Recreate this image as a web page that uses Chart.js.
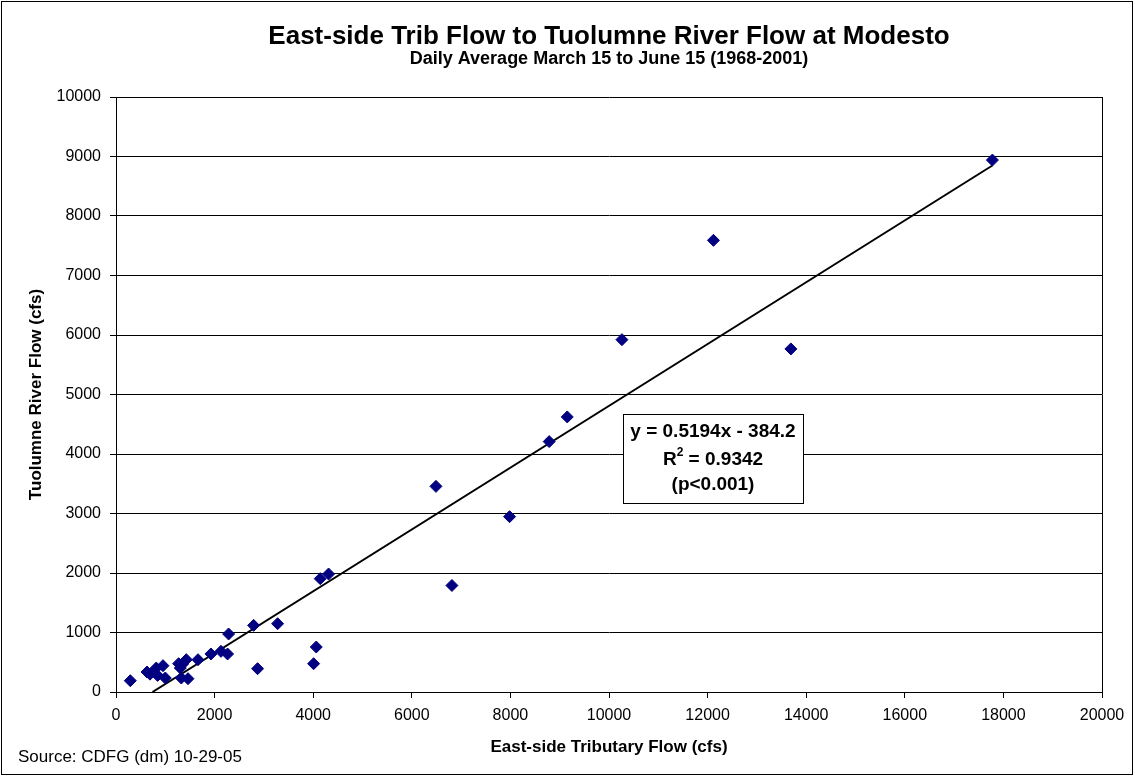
<!DOCTYPE html>
<html>
<head>
<meta charset="utf-8">
<title>East-side Trib Flow to Tuolumne River Flow at Modesto</title>
<script src="https://cdn.jsdelivr.net/npm/chart.js@4.4.0/dist/chart.umd.min.js"></script>
<style>
  html, body { margin: 0; padding: 0; background: #fff; }
  #wrap { width: 1135px; height: 777px; position: relative; }
</style>
</head>
<body>
<div id="wrap"><canvas id="flowChart" width="1135" height="777"></canvas></div>
<script>
// East-side tributary flow (cfs), one point per year 1968-2001
const tribFlow = [290, 629, 690, 817, 844, 953, 1000, 1270, 1304, 1324, 1350, 1426, 1460, 1663,
  1926, 2129, 2263, 2284, 2791, 2872, 3278, 4008, 4062, 4143, 4312, 6490, 6814, 7983, 8787,
  9153, 10262, 12119, 13689, 17777];
// Tuolumne River flow at Modesto (cfs)
const riverFlow = [190, 336, 300, 403, 279, 442, 235, 476, 403, 235, 470, 543, 224, 543,
  639, 683, 639, 975, 1120, 392, 1148, 476, 756, 1905, 1983, 3456, 1790, 2947, 4208,
  4623, 5922, 7591, 5766, 8940];
// regression line end points, y = 0.5194x - 384.2
const trendX = [740, 17777];
const trendY = [0, 8849];

const xTicks = { min: 0, max: 20000, step: 2000 };
const yTicks = { min: 0, max: 10000, step: 1000 };

const titleText = 'East-side Trib Flow to Tuolumne River Flow at Modesto';
const subtitleText = 'Daily Average March 15 to June 15 (1968-2001)';
const xAxisTitle = 'East-side Tributary Flow (cfs)';
const yAxisTitle = 'Tuolumne River Flow (cfs)';
const sourceText = 'Source: CDFG (dm) 10-29-05';
const fitLines = ['y = 0.5194x - 384.2', '= 0.9342', '(p<0.001)'];

const FONT = '"Liberation Sans", Arial, Helvetica, sans-serif';

const points = tribFlow.map((x, i) => ({ x: x, y: riverFlow[i] }));
const trend = trendX.map((x, i) => ({ x: x, y: trendY[i] }));

// titles, frame and the equation box
const decorations = {
  id: 'decorations',
  afterDraw(chart) {
    const ctx = chart.ctx;
    const area = chart.chartArea;
    const cx = (area.left + area.right) / 2;
    ctx.save();

    // outer border
    ctx.strokeStyle = '#000';
    ctx.lineWidth = 1;
    ctx.strokeRect(1.5, 1.5, 1131, 773);

    // right edge of plot area
    ctx.beginPath();
    ctx.moveTo(Math.round(area.right) + 0.5, area.top);
    ctx.lineTo(Math.round(area.right) + 0.5, area.bottom);
    ctx.stroke();

    ctx.fillStyle = '#000';
    ctx.textAlign = 'center';
    ctx.textBaseline = 'middle';
    ctx.font = 'bold 26px ' + FONT;
    ctx.fillText(titleText, cx, 37);
    ctx.font = 'bold 18px ' + FONT;
    ctx.fillText(subtitleText, cx, 59);

    ctx.font = 'bold 17px ' + FONT;
    ctx.fillText(xAxisTitle, cx, 747);

    ctx.save();
    ctx.translate(36, (area.top + area.bottom) / 2);
    ctx.rotate(-Math.PI / 2);
    ctx.font = 'bold 17px ' + FONT;
    ctx.fillText(yAxisTitle, 0, 0);
    ctx.restore();

    ctx.textAlign = 'left';
    ctx.font = '17px ' + FONT;
    ctx.fillText(sourceText, 18, 757);

    // equation box
    const bx = 623, by = 414, bw = 180, bh = 89;
    ctx.fillStyle = '#fff';
    ctx.fillRect(bx, by, bw, bh);
    ctx.strokeStyle = '#000';
    ctx.strokeRect(bx + 0.5, by + 0.5, bw, bh);
    ctx.fillStyle = '#000';
    ctx.textAlign = 'center';
    const bcx = bx + bw / 2;
    ctx.font = 'bold 19px ' + FONT;
    ctx.fillText(fitLines[0], bcx, 432);
    // R² line with superscript
    const rW = ctx.measureText('R').width;
    ctx.font = 'bold 12px ' + FONT;
    const supW = ctx.measureText('2').width;
    ctx.font = 'bold 19px ' + FONT;
    const restW = ctx.measureText(' ' + fitLines[1]).width;
    const total = rW + supW + restW;
    const tx = bcx - total / 2;
    ctx.textAlign = 'left';
    ctx.fillText('R', tx, 460);
    ctx.font = 'bold 12px ' + FONT;
    ctx.fillText('2', tx + rW, 453);
    ctx.font = 'bold 19px ' + FONT;
    ctx.fillText(' ' + fitLines[1], tx + rW + supW, 460);
    ctx.textAlign = 'center';
    ctx.fillText(fitLines[2], bcx, 485);

    ctx.restore();
  }
};

const ctx = document.getElementById('flowChart').getContext('2d');
const flowChart = new Chart(ctx, {
  type: 'scatter',
  data: {
    datasets: [
      {
        label: 'Flow',
        data: points,
        pointStyle: 'rectRot',
        pointRadius: 6,
        pointBorderWidth: 1,
        backgroundColor: '#000080',
        borderColor: '#000080',
        order: 1
      },
      {
        label: 'Trend',
        data: trend,
        type: 'line',
        showLine: true,
        pointRadius: 0,
        borderColor: '#000',
        borderWidth: 2,
        fill: false,
        order: 2
      }
    ]
  },
  plugins: [decorations],
  options: {
    responsive: false,
    animation: false,
    layout: { padding: { top: 97, right: 33, left: 0, bottom: 0 } },
    plugins: {
      legend: { display: false },
      tooltip: { enabled: false },
      title: { display: false }
    },
    scales: {
      x: {
        type: 'linear',
        min: xTicks.min,
        max: xTicks.max,
        afterFit(scale) { scale.height = 85; },
        ticks: {
          stepSize: xTicks.step,
          color: '#000',
          padding: 8,
          font: { family: FONT, size: 16 },
          callback: v => String(v)
        },
        grid: {
          drawOnChartArea: false,
          drawTicks: true,
          tickLength: 6,
          tickColor: '#000'
        },
        border: { color: '#000', width: 1 }
      },
      y: {
        type: 'linear',
        min: yTicks.min,
        max: yTicks.max,
        afterFit(scale) { scale.width = 116; },
        ticks: {
          stepSize: yTicks.step,
          color: '#000',
          padding: 9,
          font: { family: FONT, size: 16 },
          callback: v => String(v)
        },
        grid: {
          color: '#000',
          lineWidth: 1,
          drawTicks: true,
          tickLength: 6,
          tickColor: '#000'
        },
        border: { color: '#000', width: 1 }
      }
    }
  }
});
</script>
</body>
</html>
